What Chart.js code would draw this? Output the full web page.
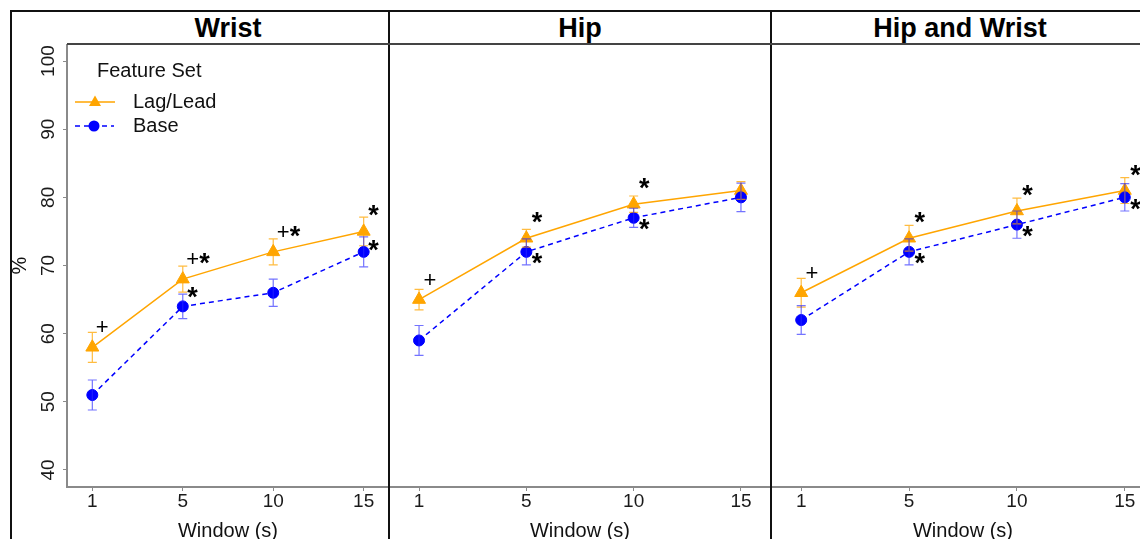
<!DOCTYPE html>
<html>
<head>
<meta charset="utf-8">
<script src="https://cdn.jsdelivr.net/npm/chart.js@4.4.0/dist/chart.umd.min.js"></script>
<style>
  html, body { margin: 0; padding: 0; background: #fff; }
  body { width: 1140px; height: 539px; position: relative; overflow: hidden;
         font-family: "Liberation Sans", Arial, sans-serif; }
  canvas { position: absolute; top: 44px; }
  .ln { position: absolute; background: #111; z-index: 5; }
  .ttl { position: absolute; top: 15px; font-size: 27px; line-height: 27px; font-weight: bold;
         text-align: center; color: #000; }
  .lg { position: absolute; font-size: 20px; line-height: 20px; color: #111; white-space: nowrap; }
</style>
</head>
<body>

<canvas id="c1" width="379" height="497" style="left:10px"></canvas>
<canvas id="c2" width="382" height="497" style="left:389px"></canvas>
<canvas id="c3" width="384" height="497" style="left:771px"></canvas>

<!-- Rahmen der Panels -->
<div class="ln" style="left:10px; top:10px; width:1140px; height:2px"></div>
<div class="ln" style="left:10px; top:10px; width:2px; height:540px"></div>
<div class="ln" style="left:388px; top:10px; width:2px; height:540px"></div>
<div class="ln" style="left:770px; top:10px; width:2px; height:540px"></div>
<div class="ln" style="left:67px; top:43px; width:1080px; height:1.5px; background:#444"></div>

<div class="ttl" style="left:67px; width:322px">Wrist</div>
<div class="ttl" style="left:389px; width:382px">Hip</div>
<div class="ttl" style="left:771px; width:378px">Hip and Wrist</div>

<!-- Legende -->
<div class="lg" style="left:97px; top:60px">Feature Set</div>
<div class="lg" style="left:133px; top:91px">Lag/Lead</div>
<div class="lg" style="left:133px; top:115px">Base</div>
<svg style="position:absolute; left:70px; top:90px" width="50" height="45">
  <line x1="5" y1="12" x2="45" y2="12" stroke="#FFA500" stroke-width="1.5"/>
  <polygon points="25,5.5 31,16 19,16" fill="#FFA500"/>
  <line x1="5" y1="36" x2="44" y2="36" stroke="#0000FF" stroke-width="1.5" stroke-dasharray="5,4"/>
  <circle cx="24" cy="36" r="5.5" fill="#0000FF"/>
</svg>

<script>
// --- Daten ---
const windows = ['1', '5', '10', '15'];
const yTicks = [40, 50, 60, 70, 80, 90, 100];

// Wrist
const wristLag = [58, 68, 72, 75];
const wristLagErr = [2.2, 1.9, 1.9, 2.1];
const wristBase = [51, 64, 66, 72];
const wristBaseErr = [2.2, 1.8, 2.0, 2.2];
const wristLagNote = ['+', '+*', '+*', '*'];
const wristLagNoteY = [61, 71, 75, 78];
const wristBaseNote = ['', '*', '', '*'];
const wristBaseNoteY = [null, 66, null, 73];

// Hip
const hipLag = [65, 74, 79, 81];
const hipLagErr = [1.5, 1.3, 1.2, 1.3];
const hipBase = [59, 72, 77, 80];
const hipBaseErr = [2.2, 1.9, 1.4, 2.1];
const hipLagNote = ['+', '*', '*', ''];
const hipLagNoteY = [68, 77, 82, null];
const hipBaseNote = ['', '*', '*', ''];
const hipBaseNoteY = [null, 71, 76, null];

// Hip and Wrist
const bothLag = [66, 74, 78, 81];
const bothLagErr = [2.1, 1.9, 1.9, 1.9];
const bothBase = [62, 72, 76, 80];
const bothBaseErr = [2.1, 1.9, 2.0, 2.0];
const bothLagNote = ['+', '*', '*', '*'];
const bothLagNoteY = [69, 77, 81, 84];
const bothBaseNote = ['', '*', '*', '*'];
const bothBaseNoteY = [null, 71, 75, 79];

const ORANGE = '#FFA500';
const BLUE = '#0000FF';
const AXIS_GREY = '#8a8a8a';

// Fehlerbalken und Signifikanz-Zeichen
const extrasPlugin = {
  id: 'extras',
  afterDatasetsDraw(chart, args, opts) {
    const ctx = chart.ctx;
    const xs = chart.scales.x, ys = chart.scales.y;
    ctx.save();
    opts.series.forEach(s => {
      ctx.strokeStyle = s.errColor;
      ctx.lineWidth = 1.2;
      s.values.forEach((v, i) => {
        const x = xs.getPixelForValue(i + 1);
        const y1 = ys.getPixelForValue(v - s.err[i]);
        const y2 = ys.getPixelForValue(v + s.err[i]);
        ctx.beginPath();
        ctx.moveTo(x, y1); ctx.lineTo(x, y2);
        ctx.moveTo(x - 4.5, y1); ctx.lineTo(x + 4.5, y1);
        ctx.moveTo(x - 4.5, y2); ctx.lineTo(x + 4.5, y2);
        ctx.stroke();
      });
    });
    ctx.fillStyle = '#000';
    ctx.textAlign = 'left';
    ctx.textBaseline = 'alphabetic';
    opts.series.forEach(s => {
      s.notes.forEach((txt, i) => {
        if (!txt) return;
        let x = xs.getPixelForValue(i + 1.05);
        const y = ys.getPixelForValue(s.noteY[i]);
        for (const ch of txt) {
          ctx.font = ch === '*' ? 'bold 27px "Liberation Sans"' : '22px "Liberation Sans"';
          const m = ctx.measureText(ch);
          const base = y + (m.actualBoundingBoxAscent - m.actualBoundingBoxDescent) / 2;
          ctx.fillText(ch, x + m.actualBoundingBoxLeft, base);
          x += (m.actualBoundingBoxRight + m.actualBoundingBoxLeft) + 1;
        }
      });
    });
    ctx.restore();
  }
};

function pts(arr) {
  return arr.map((v, i) => ({ x: i + 1, y: v }));
}

function makePanel(id, lag, lagErr, base, baseErr, lagNote, lagNoteY, baseNote, baseNoteY, showY) {
  new Chart(document.getElementById(id), {
    type: 'line',
    data: {
      datasets: [
        {
          label: 'Base',
          data: pts(base),
          borderColor: BLUE,
          backgroundColor: BLUE,
          borderWidth: 1.5,
          borderDash: [5, 4],
          pointStyle: 'circle',
          pointRadius: 5.5,
          pointBorderWidth: 1,
          tension: 0
        },
        {
          label: 'Lag/Lead',
          data: pts(lag),
          borderColor: ORANGE,
          backgroundColor: ORANGE,
          borderWidth: 1.5,
          pointStyle: 'triangle',
          pointRadius: 7.5,
          pointBorderWidth: 1,
          tension: 0
        }
      ]
    },
    options: {
      responsive: false,
      animation: false,
      devicePixelRatio: 1,
      layout: { padding: 0, autoPadding: false },
      plugins: {
        legend: { display: false },
        tooltip: { enabled: false },
        extras: {
          series: [
            { values: lag, err: lagErr, errColor: 'rgba(255,165,0,0.75)', notes: lagNote, noteY: lagNoteY },
            { values: base, err: baseErr, errColor: 'rgba(40,40,255,0.65)', notes: baseNote, noteY: baseNoteY }
          ]
        }
      },
      scales: {
        x: {
          type: 'linear',
          min: 0.72,
          max: 4.28,
          afterBuildTicks: s => { s.ticks = windows.map((w, i) => ({ value: i + 1 })); },
          afterFit: s => { s.height = 54; s.paddingLeft = 0; s.paddingRight = 0; },
          ticks: {
            callback: v => windows[Math.round(v) - 1],
            color: '#1a1a1a',
            font: { family: 'Liberation Sans', size: 19, lineHeight: 1 },
            padding: 1,
            maxRotation: 0
          },
          grid: { display: true, drawOnChartArea: false, drawTicks: true, tickLength: 4, color: AXIS_GREY, lineWidth: 1 },
          border: { display: true, color: AXIS_GREY, width: 2 },
          title: {
            display: true,
            text: 'Window (s)',
            color: '#111',
            font: { family: 'Liberation Sans', size: 20, lineHeight: 1 },
            padding: 0
          }
        },
        y: {
          display: showY,
          min: 37.5,
          max: 102.5,
          afterBuildTicks: s => { s.ticks = yTicks.map(v => ({ value: v })); },
          afterFit: s => { if (showY) s.width = 57; s.paddingTop = 0; s.paddingBottom = 0; },
          ticks: {
            callback: v => String(v),
            color: '#1a1a1a',
            font: { family: 'Liberation Sans', size: 19, lineHeight: 1 },
            minRotation: 90,
            maxRotation: 90,
            crossAlign: 'center',
            padding: -2
          },
          grid: { display: true, drawOnChartArea: false, drawTicks: true, tickLength: 4, color: AXIS_GREY, lineWidth: 1 },
          border: { display: true, color: AXIS_GREY, width: 2 },
          title: {
            display: true,
            text: '%',
            color: '#111',
            font: { family: 'Liberation Sans', size: 20, lineHeight: 1 },
            padding: 0
          }
        }
      }
    },
    plugins: [extrasPlugin]
  });
}

makePanel('c1', wristLag, wristLagErr, wristBase, wristBaseErr, wristLagNote, wristLagNoteY, wristBaseNote, wristBaseNoteY, true);
makePanel('c2', hipLag, hipLagErr, hipBase, hipBaseErr, hipLagNote, hipLagNoteY, hipBaseNote, hipBaseNoteY, false);
makePanel('c3', bothLag, bothLagErr, bothBase, bothBaseErr, bothLagNote, bothLagNoteY, bothBaseNote, bothBaseNoteY, false);
</script>
</body>
</html>
